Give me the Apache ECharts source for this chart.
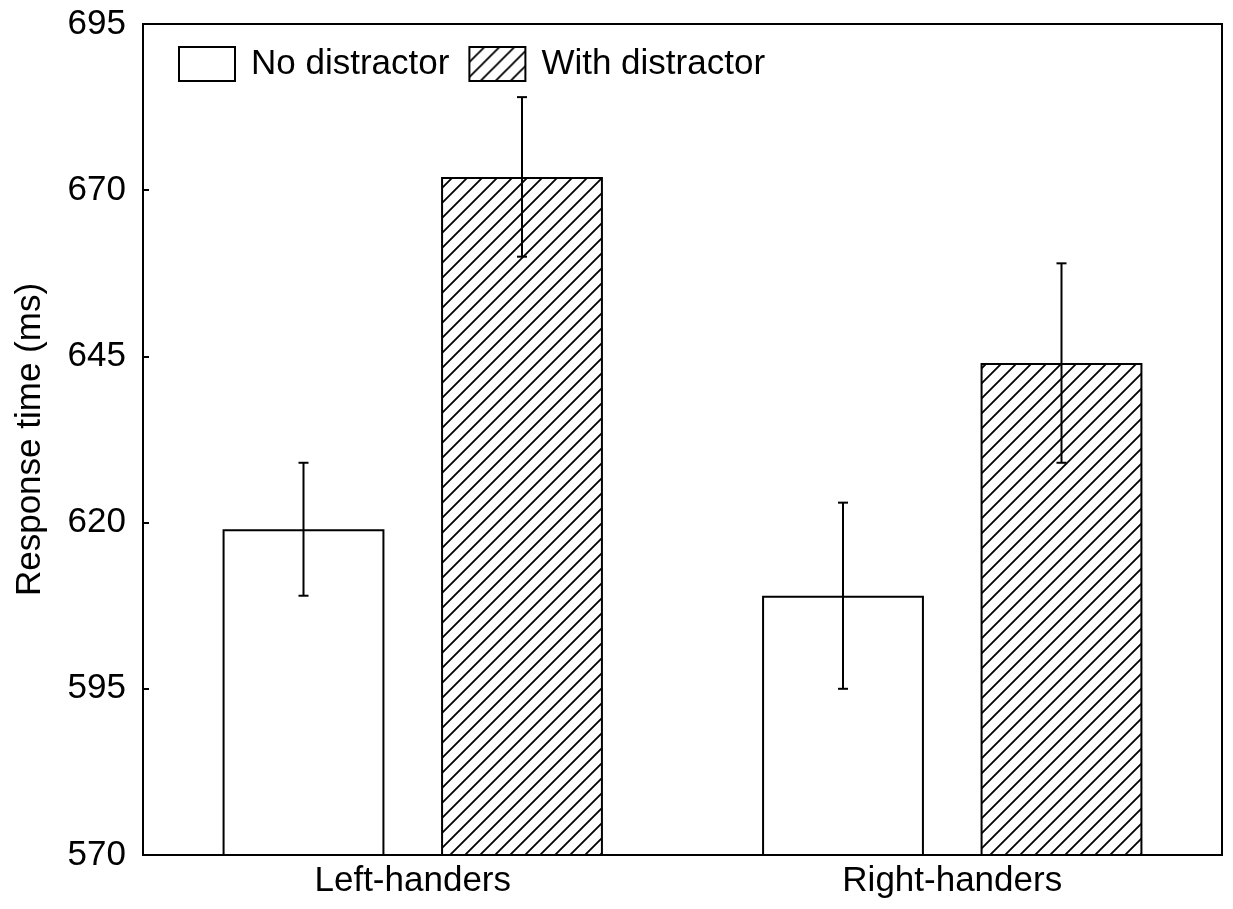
<!DOCTYPE html>
<html>
<head>
<meta charset="utf-8">
<script src="https://cdn.jsdelivr.net/npm/echarts@6/dist/echarts.min.js"></script>
<style>
html,body{margin:0;padding:0;background:#fff;}
#chart{width:1233px;height:909px;}
</style>
</head>
<body>
<div id="chart"></div>
<script>
const categories = ['Left-handers', 'Right-handers'];
const seriesNames = ['No distractor', 'With distractor'];
const noDistractor = [619, 609];
const withDistractor = [672, 644];
const noDistractorErr = [10, 14];
const withDistractorErr = [12, 15];
const yTicks = [570, 595, 620, 645, 670, 695];

const FONT = '"Liberation Sans", Arial, sans-serif';
const FS = 35;

function hatchPattern() {
  const s = 15;
  const c = document.createElement('canvas');
  c.width = s; c.height = s;
  const g = c.getContext('2d');
  g.fillStyle = '#fff';
  g.fillRect(0, 0, s, s);
  g.strokeStyle = '#000';
  g.lineWidth = 1.8;
  g.beginPath();
  g.moveTo(-2, s + 2); g.lineTo(s + 2, -2);
  g.moveTo(-2, 2); g.lineTo(2, -2);
  g.moveTo(s - 2, s + 2); g.lineTo(s + 2, s - 2);
  g.stroke();
  return c;
}
const hatch = { image: hatchPattern(), repeat: 'repeat' };

const BAR_W = 0.30, BAR_GAP = 0.35;
const offsetFrac = (BAR_W + BAR_W * BAR_GAP) / 2;

function errorSeries(values, errs, sign) {
  return {
    type: 'custom',
    silent: true,
    z: 10,
    data: values.map((v, i) => [i, v, errs[i]]),
    renderItem: function (params, api) {
      const i = api.value(0);
      const v = api.value(1);
      const e = api.value(2);
      const catW = api.size([1, 0])[0];
      const top = api.coord([i, v + e]);
      const bot = api.coord([i, v - e]);
      const x = top[0] + sign * offsetFrac * catW;
      const cap = 5;
      const st = { stroke: '#000', lineWidth: 2 };
      return {
        type: 'group',
        children: [
          { type: 'line', shape: { x1: x, y1: top[1], x2: x, y2: bot[1] }, style: st },
          { type: 'line', shape: { x1: x - cap, y1: top[1], x2: x + cap, y2: top[1] }, style: st },
          { type: 'line', shape: { x1: x - cap, y1: bot[1], x2: x + cap, y2: bot[1] }, style: st }
        ]
      };
    },
    encode: { x: 0, y: 1 }
  };
}

const chart = echarts.init(document.getElementById('chart'), null, { renderer: 'canvas' });
chart.setOption({
  animation: false,
  backgroundColor: '#fff',
  textStyle: { fontFamily: FONT, color: '#000' },
  grid: {
    left: 143, right: 11, top: 24, bottom: 54,
    show: true, borderColor: '#000', borderWidth: 2, backgroundColor: 'transparent'
  },
  legend: {
    left: 173, top: 41,
    itemWidth: 56, itemHeight: 34, itemGap: 19,
    icon: 'rect',
    data: seriesNames,
    selectedMode: false,
    textStyle: { fontFamily: FONT, fontSize: FS, color: '#000', padding: [0, 0, 0, 11] }
  },
  xAxis: {
    type: 'category',
    data: categories,
    axisLine: { show: true, lineStyle: { color: '#000', width: 2 } },
    axisTick: { show: false },
    axisLabel: { fontFamily: FONT, fontSize: FS, color: '#000', margin: 9 },
    splitLine: { show: false }
  },
  yAxis: {
    type: 'value',
    min: 570, max: 695, interval: 25,
    name: 'Response time (ms)',
    nameLocation: 'middle',
    nameRotate: 90,
    nameGap: 95,
    nameTextStyle: { fontFamily: FONT, fontSize: FS, color: '#000' },
    axisLine: { show: true, lineStyle: { color: '#000', width: 2 } },
    axisTick: { show: true, inside: true, length: 6, lineStyle: { color: '#000', width: 2 } },
    axisLabel: {
      fontFamily: FONT, fontSize: FS, color: '#000', margin: 17,
      formatter: function (v) { return yTicks.indexOf(v) >= 0 ? String(v) : ''; }
    },
    splitLine: { show: false }
  },
  series: [
    {
      name: seriesNames[0],
      type: 'bar',
      data: noDistractor,
      barWidth: (BAR_W * 100) + '%',
      barGap: (BAR_GAP * 100) + '%',
      itemStyle: { color: '#fff', borderColor: '#000', borderWidth: 2 }
    },
    {
      name: seriesNames[1],
      type: 'bar',
      data: withDistractor,
      barWidth: (BAR_W * 100) + '%',
      barGap: (BAR_GAP * 100) + '%',
      itemStyle: { color: hatch, borderColor: '#000', borderWidth: 2 }
    },
    errorSeries(noDistractor, noDistractorErr, -1),
    errorSeries(withDistractor, withDistractorErr, 1)
  ]
});
</script>
</body>
</html>
